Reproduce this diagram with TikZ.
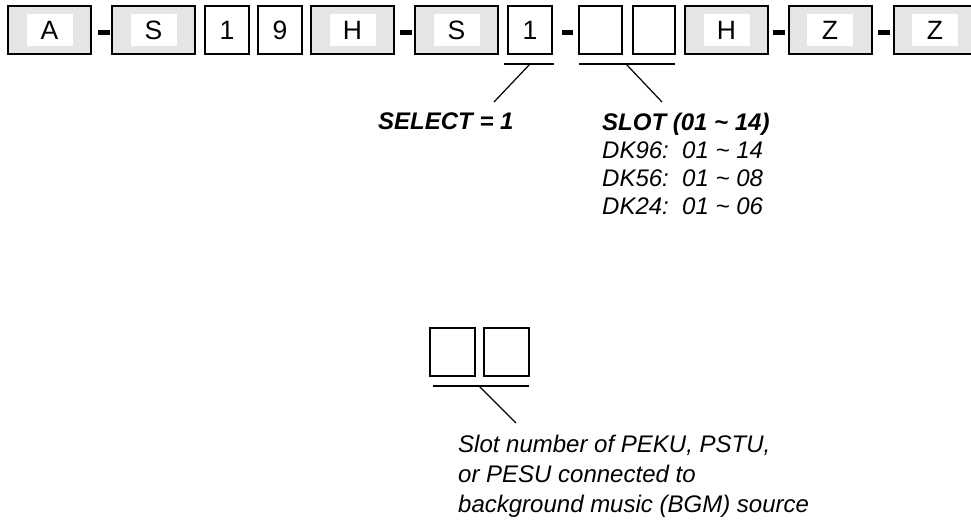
\documentclass[tikz,border=0pt]{standalone}
\usepackage{fontspec}
\setmainfont{Liberation Sans}
\begin{document}
\begin{tikzpicture}[x=1pt,y=-1pt,
  codebox/.style={draw=black, line width=2pt, minimum width=44pt, minimum height=48pt,
    inner sep=0pt, fill=white, font=\fontsize{26.5}{26.5}\selectfont},
  groupbox/.style={codebox, minimum width=83pt, fill=black!10,
    path picture={\fill[white]
      ([xshift=-23pt,yshift=-16pt]path picture bounding box.center) rectangle
      ([xshift=23pt,yshift=16pt]path picture bounding box.center);}},
  hyphen/.style={fill=black},
  underline/.style={line width=1.6pt},
  leader/.style={line width=1.2pt},
  note/.style={anchor=base west, inner sep=0pt, font=\fontsize{24}{24}\selectfont\itshape},
  notehead/.style={note, font=\fontsize{24}{24}\selectfont\bfseries\itshape}]
\useasboundingbox (0,0) rectangle (971,519);
\clip (0,0) rectangle (971,519);

% code string
\node[groupbox] (cA)  at (49.5,30)  {A};
\fill[hyphen] (98,30) rectangle (110,35);
\node[groupbox] (cS1) at (153.5,30) {S};
\node[codebox]  (c1)  at (227,30)   {1};
\node[codebox]  (c9)  at (280,30)   {9};
\node[groupbox] (cH1) at (352.5,30) {H};
\fill[hyphen] (400,30) rectangle (412,35);
\node[groupbox] (cS2) at (456.5,30) {S};
\node[codebox]  (cSel) at (530,30)  {1};
\fill[hyphen] (562,30) rectangle (573,35);
\node[codebox, minimum width=43pt] (cSlotA) at (600.5,30) {};
\node[codebox, minimum width=42pt] (cSlotB) at (654,30)   {};
\node[groupbox] (cH2) at (726.5,30) {H};
\fill[hyphen] (773,30) rectangle (785,35);
\node[groupbox] (cZ1) at (830,30)   {Z};
\fill[hyphen] (878,30) rectangle (890,35);
\node[groupbox] (cZ2) at (935,30)   {Z};

% SELECT field
\coordinate (selL) at (504,64);
\coordinate (selR) at (554,64);
\coordinate (selK) at (530,64);
\coordinate (selE) at (494,102);
\draw[underline] (selL) -- (selR);
\draw[leader] (selK) -- (selE);
\node[notehead] (select) at (378,129) {SELECT = 1};

% SLOT field
\coordinate (slotL) at (579,64);
\coordinate (slotR) at (675,64);
\coordinate (slotK) at (626,64);
\coordinate (slotE) at (662,102);
\draw[underline] (slotL) -- (slotR);
\draw[leader] (slotK) -- (slotE);
\node[notehead] (slot) at (602,130) {SLOT (01 \textasciitilde{} 14)};
\node[note] (dk96) at (602,158) {DK96:\ \ 01 \textasciitilde{} 14};
\node[note] (dk56) at (602,186) {DK56:\ \ 01 \textasciitilde{} 08};
\node[note] (dk24) at (602,214) {DK24:\ \ 01 \textasciitilde{} 06};

% BGM slot entry
\node[codebox, minimum width=45pt] (bA) at (452.5,352) {};
\node[codebox, minimum width=45pt] (bB) at (506.5,352) {};
\coordinate (bgmL) at (433,386);
\coordinate (bgmR) at (529,386);
\coordinate (bgmK) at (479,386);
\coordinate (bgmE) at (516,423);
\draw[underline] (bgmL) -- (bgmR);
\draw[leader] (bgmK) -- (bgmE);
\node[note] (bgm1) at (458,452) {Slot number of PEKU, PSTU,};
\node[note] (bgm2) at (458,482) {or PESU connected to};
\node[note] (bgm3) at (458,512) {background music (BGM) source};
\end{tikzpicture}
\end{document}
